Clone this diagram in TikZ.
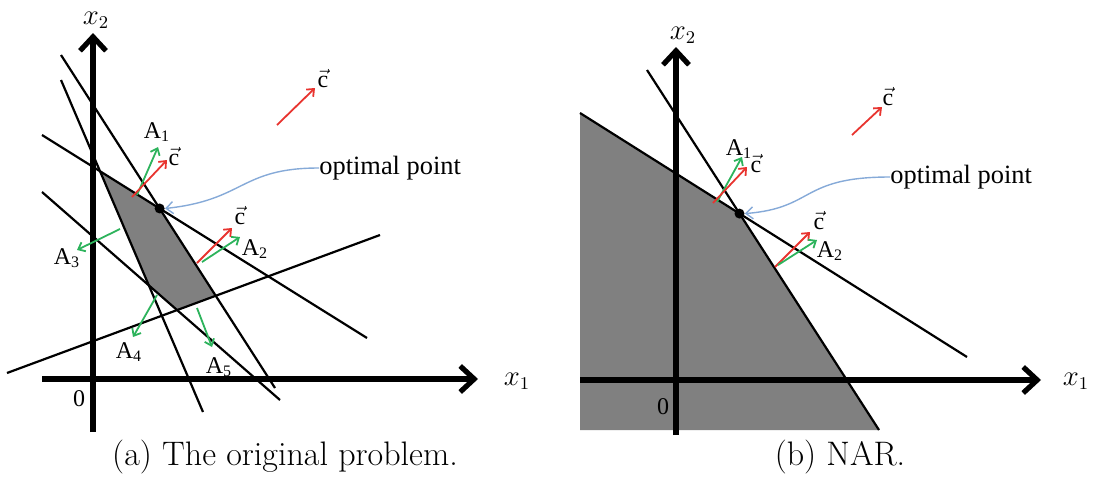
\documentclass[tikz,border=0pt]{standalone}
\usepackage{amsmath}
\usepackage{fontspec}
\newfontfamily\tms{Liberation Serif}
\usetikzlibrary{arrows.meta,calc}
\definecolor{vecred}{HTML}{E8342F}
\definecolor{vecgreen}{HTML}{2DB35C}
\definecolor{curveblue}{HTML}{86AAD8}
\definecolor{regiongray}{HTML}{808080}
\tikzset{
  axisline/.style={line width=2.6pt,-{Straight Barb[length=7pt,width=13pt]}},
  constraint/.style={black,line width=1.1pt},
  cvec/.style={vecred,line width=0.9pt,-{Straight Barb[length=3pt,width=5pt]}},
  avec/.style={vecgreen,line width=0.9pt,-{Straight Barb[length=3pt,width=5pt]}},
  hint/.style={curveblue,line width=0.7pt,-{Straight Barb[length=3.5pt,width=6pt]}},
  point/.style={circle,fill=black,inner sep=0pt,minimum size=5pt},
  lbl/.style={font=\tms\fontsize{12}{14}\selectfont,inner sep=0pt},
  remark/.style={font=\tms\fontsize{13.2}{15}\selectfont,inner sep=0pt},
  axlbl/.style={font=\fontsize{13.5}{16}\selectfont,inner sep=0pt},
  caption/.style={font=\fontsize{17}{20}\selectfont,inner sep=0pt}
}

\begin{document}
\begin{tikzpicture}[x=0.5pt,y=-0.5pt]
  \useasboundingbox (0,0) rectangle (1093,487);
  % (a) the original problem
  \coordinate (l1a) at (42,135);  \coordinate (l1b) at (367,338);
  \coordinate (l2a) at (61,55);   \coordinate (l2b) at (275,388);
  \coordinate (l3a) at (61,80);   \coordinate (l3b) at (203,412);
  \coordinate (l4a) at (42,192);  \coordinate (l4b) at (280,400);
  \coordinate (l5a) at (7,373);   \coordinate (l5b) at (380,235);
  \coordinate (p1) at (intersection of l1a--l1b and l3a--l3b);
  \coordinate (p2) at (intersection of l1a--l1b and l2a--l2b);
  \coordinate (p3) at (intersection of l2a--l2b and l5a--l5b);
  \coordinate (p4) at (intersection of l5a--l5b and l4a--l4b);
  \coordinate (p5) at (intersection of l4a--l4b and l3a--l3b);
  \fill[regiongray] (p1) -- (p2) -- (p3) -- (p4) -- (p5) -- cycle;
  \foreach \i in {1,...,5}
    \draw[constraint] (l\i a) -- (l\i b);
  \draw[axisline] (93,432) -- (93,33);
  \draw[axisline] (42,379) -- (478,379);
  \node[axlbl] (xa2) at (96,20) {$x_2$};
  \node[axlbl] (xa1) at (517,381) {$x_1$};
  \node[lbl] (oa) at (79,399) {0};
  \node[point] (opta) at (p2) {};
  \draw[cvec] (277,125) -- (315,88);
  \node[lbl] (ctopa) at (323,79) {$\vec{\text{c}}$};
  \draw[avec] (137,195) -- (158,147);
  \draw[cvec] (132,197) -- (167,160);
  \node[lbl] (a1a) at (157,132) {A\textsubscript{1}};
  \node[lbl] (c1a) at (174,157) {$\vec{\text{c}}$};
  \draw[cvec] (197,263) -- (232,228);
  \draw[avec] (202,262) -- (240,237);
  \node[lbl] (c2a) at (240,216) {$\vec{\text{c}}$};
  \node[lbl] (a2a) at (255,249) {A\textsubscript{2}};
  \draw[avec] (120,229) -- (77,250);
  \node[lbl] (a3a) at (67,258) {A\textsubscript{3}};
  \draw[avec] (157,295) -- (133,337);
  \node[lbl] (a4a) at (129,352) {A\textsubscript{4}};
  \draw[avec] (197,308) -- (212,347);
  \node[lbl] (a5a) at (219,367) {A\textsubscript{5}};
  \node[remark,anchor=west] (txta) at (319,168) {optimal point};
  \draw[hint] (txta.west) .. controls (240,168) and (245,200) .. (opta.east);
  % (b) NAR
  \coordinate (ma) at (580,113);  \coordinate (mb) at (967,357);
  \coordinate (na) at (647,70);   \coordinate (nb) at (879,430);
  \coordinate (q) at (intersection of ma--mb and na--nb);
  \fill[regiongray] (ma) -- (q) -- (nb) -- (580,430) -- cycle;
  \draw[constraint] (ma) -- (mb);
  \draw[constraint] (na) -- (nb);
  \draw[axisline] (676,435) -- (676,47);
  \draw[axisline] (580,380) -- (1041,380);
  \node[axlbl] (xb2) at (683,35) {$x_2$};
  \node[axlbl] (xb1) at (1076,381) {$x_1$};
  \node[lbl] (ob) at (663,407) {0};
  \node[point] (optb) at (q) {};
  \draw[cvec] (852,135) -- (882,107);
  \node[lbl] (ctopb) at (888,97) {$\vec{\text{c}}$};
  \draw[avec] (717,202) -- (742,157);
  \draw[cvec] (713,203) -- (747,167);
  \node[lbl] (a1b) at (739,149) {A\textsubscript{1}};
  \node[lbl] (c1b) at (756,164) {$\vec{\text{c}}$};
  \draw[cvec] (775,267) -- (810,232);
  \draw[avec] (778,265) -- (817,240);
  \node[lbl] (c2b) at (819,221) {$\vec{\text{c}}$};
  \node[lbl] (a2b) at (830,251) {A\textsubscript{2}};
  \node[remark,anchor=west] (txtb) at (890,177) {optimal point};
  \draw[hint] (txtb.west) .. controls (800,177) and (815,208) .. (optb.east);
  % captions
  \node[caption] (capa) at (285,457) {(a) The original problem.};
  \node[caption] (capb) at (840,457) {(b) NAR.};
\end{tikzpicture}
\end{document}
